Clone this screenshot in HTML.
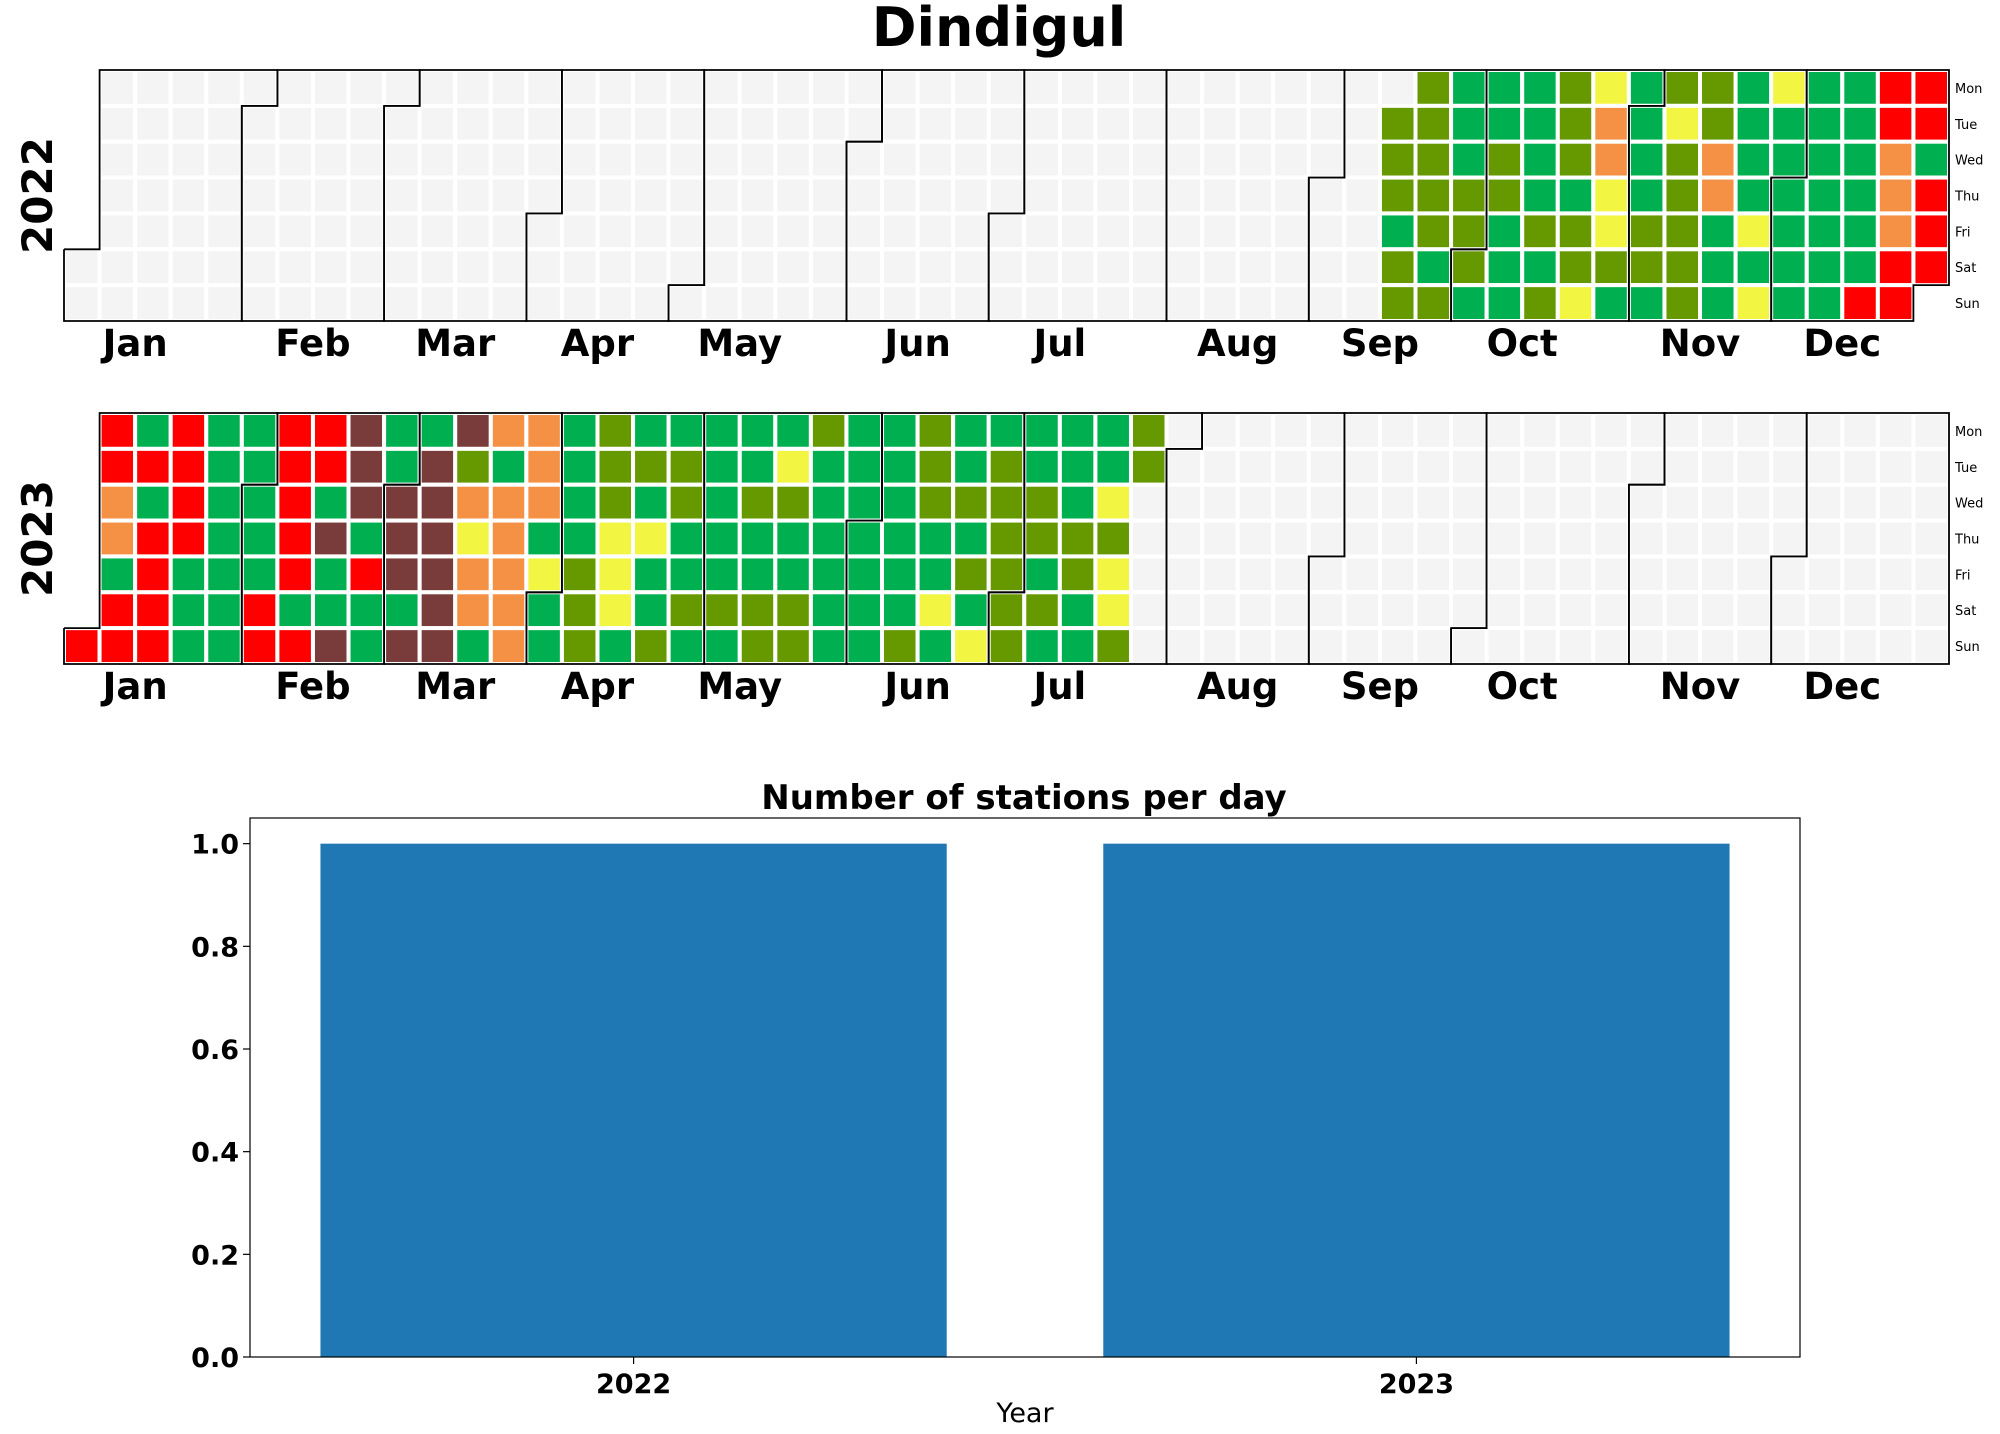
<!DOCTYPE html>
<html><head><meta charset="utf-8"><style>
html,body{margin:0;padding:0;background:#fff;}
svg{display:block;font-family:"DejaVu Sans","Liberation Sans",sans-serif;}
</style></head><body>
<svg id="chart" width="2000" height="1434" viewBox="0 0 2000 1434" xmlns="http://www.w3.org/2000/svg">
<text x="999" y="46" text-anchor="middle" font-size="54" font-weight="bold">Dindigul</text>
<g id="hm"></g>
<g id="bars"></g>
</svg>
<script>
// ---- calendar data: week columns (Mon..Sun) starting at given column ----
const start2022 = 37;
const weeks2022 = ["nooogoo","ooooogo","gggooog","ggooggg","ggggogo","ooogooy","yOOyyog","ggggoog","oyooooo","ooOOggg","ggggygy","ygggggg","ggggggg","ggggggR","RROOORR","RRgRRRn"];
const start2023 = 0;
const weeks2023 = ["nnnnnnR","RROOgRR","gRgRRRR","RRRRggg","ggggggg","gggggRR","RRRRRgR","RRgbggb","bbbgRgg","ggbbbgb","gbbbbbb","boOyOOg","OgOOOOO","OOOgygg","ggggooo","oooyyyg","gogyggo","googgog","gggggog","ggoggoo","gyoggoo","ogggggg","ggggggg","ggggggo","oooggyg","ggogogy","goooooo","ggoogog","gggoogg","ggyoyyo","oonnnnn"];
const colorMap = {g:"#00B050",o:"#669900",y:"#F2F542",O:"#F59145",R:"#FF0000",b:"#7A3B3B",n:"#F4F4F4"};
const monthNames = ["Jan","Feb","Mar","Apr","May","Jun","Jul","Aug","Sep","Oct","Nov","Dec"];
const monthLabelCols = [2,7,11,15,19,24,28,33,37,41,46,50];
const dayNames = ["Mon","Tue","Wed","Thu","Fri","Sat","Sun"];
// ---- bar data ----
const barCats = ["2022","2023"];
const barVals = [1,1];
const yTicks = [0,0.2,0.4,0.6,0.8,1.0];

const NS="http://www.w3.org/2000/svg";
function mk(tag,attrs,parent){const e=document.createElementNS(NS,tag);for(const k in attrs)e.setAttribute(k,attrs[k]);parent.appendChild(e);return e;}
const hm=document.getElementById('hm');
const X0=64,X1=1949,CW=(X1-X0)/53;
function drawYear(year,top,startCol,weeks){
  const H=251,CH=H/7;
  const g=mk('g',{},hm);
  
  
  const jan1=new Date(Date.UTC(year,0,1));
  const off=(jan1.getUTCDay()+6)%7;
  const ndays=(year%4===0)?366:365;
  const pos=d=>{const i=d+off;return [Math.floor(i/7),i%7];};
  for(let d=0;d<ndays;d++){
    const [c,r]=pos(d);
    let ch='n';
    const wi=c-startCol;
    if(wi>=0&&wi<weeks.length){ch=weeks[wi][r]||'n';}
    const rect=mk('rect',{x:X0+c*CW,y:top+r*CH,width:CW,height:CH,fill:colorMap[ch],stroke:'#fff','stroke-width':4},g);
    
    
  }
  let d=0;
  for(let m=0;m<12;m++){
    const len=new Date(Date.UTC(year,m+1,0)).getUTCDate();
    const [c1,r1]=pos(d),[c2,r2]=pos(d+len-1);
    const P=(c,r)=>(X0+c*CW).toFixed(1)+','+(top+r*CH).toFixed(1);
    const pts=[P(c1,r1),P(c1,7),P(c2,7),P(c2,r2+1),P(c2+1,r2+1),P(c2+1,0),P(c1+1,0),P(c1+1,r1),P(c1,r1)];
    const pl=mk('polyline',{points:pts.join(' '),fill:'none',stroke:'#000','stroke-width':1.8},g);
    
    
    d+=len;
  }
  monthLabelCols.forEach((c,i)=>{
    const t=mk('text',{x:X0+c*CW,y:top+H+35,'text-anchor':'middle','font-size':37,'font-weight':'bold'},g);
    t.textContent=monthNames[i];
    
    
  });
  dayNames.forEach((n,i)=>{
    const t=mk('text',{x:1955,y:top+i*CH+CH/2+5,'font-size':13},g);
    t.textContent=n;
    
    
  });
  const yl=mk('text',{x:0,y:0,transform:'translate(52,'+(top+H/2)+') rotate(-90)','text-anchor':'middle','font-size':42,'font-weight':'bold'},g);
  yl.textContent=String(year);
  
  
}
drawYear(2022,70,start2022,weeks2022);
drawYear(2023,413,start2023,weeks2023);

// ---- bar chart ----
const bg=document.getElementById('bars');
const AX0=250,AX1=1800,AY0=818,AY1=1357;
const xs=v=>AX0+(v+0.49)/1.98*(AX1-AX0);
const ys=v=>AY1-v/1.05*(AY1-AY0);
const bt=mk('text',{x:1024,y:809,'text-anchor':'middle','font-size':34,'font-weight':'bold'},bg);
bt.textContent="Number of stations per day";


barVals.forEach((v,i)=>{
  const r=mk('rect',{x:xs(i-0.4),y:ys(v),width:xs(i+0.4)-xs(i-0.4),height:ys(0)-ys(v),fill:'#1f77b4'},bg);
  
  
  mk('line',{x1:xs(i),x2:xs(i),y1:AY1,y2:AY1+7,stroke:'#000','stroke-width':1.2},bg);
  const t=mk('text',{x:xs(i),y:AY1+36,'text-anchor':'middle','font-size':27,'font-weight':'bold'},bg);
  t.textContent=barCats[i];
  
  
});
yTicks.forEach(v=>{
  mk('line',{x1:AX0-7,x2:AX0,y1:ys(v),y2:ys(v),stroke:'#000','stroke-width':1.2},bg);
  const t=mk('text',{x:AX0-11,y:ys(v)+10,'text-anchor':'end','font-size':27,'font-weight':'bold'},bg);
  t.textContent=v.toFixed(1);
  
  
});
const fr=mk('rect',{x:AX0,y:AY0,width:AX1-AX0,height:AY1-AY0,fill:'none',stroke:'#000','stroke-width':1.2},bg);


const xl=mk('text',{x:1025,y:1422,'text-anchor':'middle','font-size':27},bg);
xl.textContent="Year";


</script>
</body></html>
